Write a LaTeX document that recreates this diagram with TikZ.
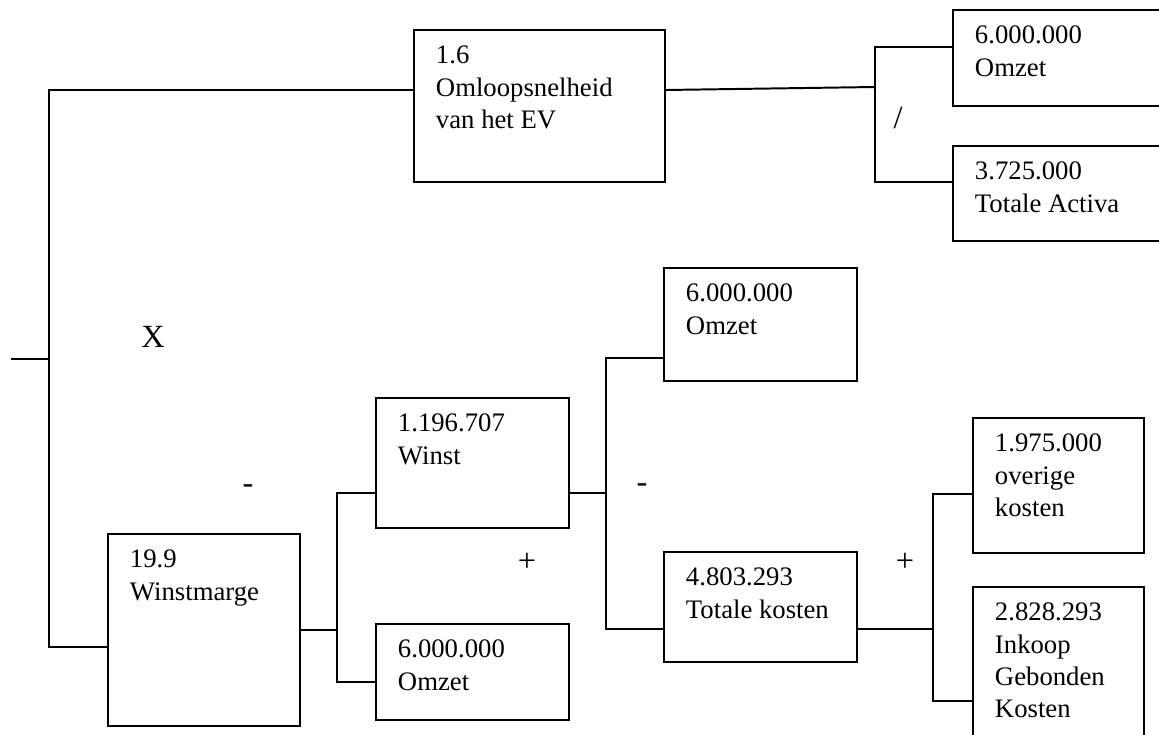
\documentclass[tikz,border=0pt]{standalone}
\usepackage{fontspec}
\setmainfont{Liberation Serif}
\usepackage{tikz}
\usetikzlibrary{positioning,calc}
\newlength\pxu
\setlength\pxu{0.025cm}
% box text: width, height (px), lines; first baseline 34px below the top
\newcommand{\cardtext}[3]{\parbox[c][#2\pxu][t]{\dimexpr#1\pxu-44\pxu\relax}{\raggedright\rule{0pt}{34\pxu}#3}}
\tikzset{
  card/.style={rectangle,draw=black,line width=1.4pt,anchor=north west,
               inner xsep=0.55cm,inner ysep=0pt,font=\fontsize{19}{22.8}\selectfont},
  link/.style={draw=black,line width=1.4pt},
  op/.style  ={inner sep=0pt,font=\fontsize{23}{27}\selectfont},
}

\begin{document}
\begin{tikzpicture}[x=0.025cm,y=-0.025cm]
  \clip (0,0) rectangle (1159,735);

  % ---- top branch: omloopsnelheid ------------------------------------
  \node[card] (ev)     at (413,29)  {\cardtext{251}{152}{1.6\\Omloopsnelheid\\van het EV}};
  \node[card] (omzetA) at (952,9)   {\cardtext{220}{96}{6.000.000\\Omzet}};
  \node[card] (activa) at (952,145) {\cardtext{220}{95}{3.725.000\\Totale Activa}};

  % ---- bottom branch: winstmarge -------------------------------------
  \node[card] (marge)  at (107,533) {\cardtext{192}{192}{19.9\\Winstmarge}};
  \node[card] (winst)  at (375,397) {\cardtext{193}{130}{1.196.707\\Winst}};
  \node[card] (omzetC) at (375,623) {\cardtext{193}{96}{6.000.000\\Omzet}};
  \node[card] (omzetB) at (663,267) {\cardtext{193}{113}{6.000.000\\Omzet}};
  \node[card] (kosten) at (663,551) {\cardtext{193}{110}{4.803.293\\Totale kosten}};
  \node[card] (overig) at (972,417) {\cardtext{171}{135}{1.975.000\\overige\\kosten}};
  \node[card] (inkoop) at (972,586) {\cardtext{171}{160}{2.828.293\\Inkoop\\Gebonden\\Kosten}};

  % ---- junction points -----------------------------------------------
  \coordinate (root)    at (11,359);
  \coordinate (rootJ)   at (49,359);
  \coordinate (trunkT)  at (49,90);
  \coordinate (trunkB)  at (49,647);
  \coordinate (divT)    at (875,47);
  \coordinate (divB)    at (875,182);
  \coordinate (winT)    at (337,493);
  \coordinate (winB)    at (337,682);
  \coordinate (verT)    at (606,358);
  \coordinate (verB)    at (606,629);
  \coordinate (kosT)    at (933,494);
  \coordinate (kosB)    at (933,701);

  % ---- connectors ----------------------------------------------------
  \draw[link] (root) -- (rootJ);
  \draw[link] (ev.west |- trunkT) -- (trunkT) -- (trunkB) -- (marge.west |- trunkB);
  \draw[link] (ev.east |- trunkT) -- (divT |- 0,87);
  \draw[link] (omzetA.west |- divT) -- (divT) -- (divB) -- (activa.west |- divB);
  \draw[link] (marge.east) -- (marge.east -| winT);
  \draw[link] (winst.west |- winT) -- (winT) -- (winB) -- (omzetC.west |- winB);
  \draw[link] (winst.east |- winT) -- (verT |- winT);
  \draw[link] (omzetB.west |- verT) -- (verT) -- (verB) -- (kosten.west |- verB);
  \draw[link] (kosten.east |- verB) -- (kosT |- verB);
  \draw[link] (overig.west |- kosT) -- (kosT) -- (kosB) -- (inkoop.west |- kosB);

  % ---- operators -----------------------------------------------------
  \node[op] (times)  at (153,337) {X};
  \node[op] (divide) at (898,118) {/};
  \node[op] (minA)   at (248,489) {-};
  \node[op] (plusA)  at (527,562) {+};
  \node[op] (minB)   at (642,488) {-};
  \node[op] (plusB)  at (905,562) {+};
\end{tikzpicture}
\end{document}
